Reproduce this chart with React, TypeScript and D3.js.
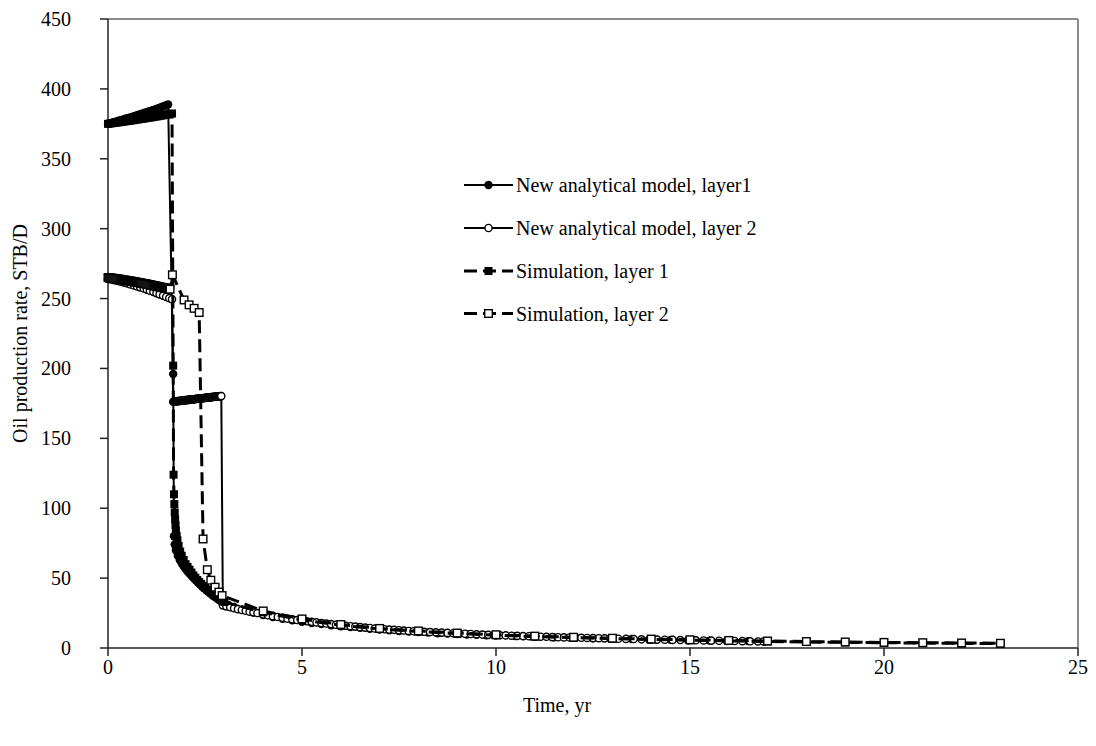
import React from 'react';
import * as d3 from 'd3';

// Oil production rate per layer: analytical model vs. numerical simulation.
// Each point is [time in years, rate in STB/D].

const xTickValues = [0, 5, 10, 15, 20, 25];
const yTickValues = [0, 50, 100, 150, 200, 250, 300, 350, 400, 450];

const xTitle = 'Time, yr';
const yTitle = 'Oil production rate, STB/D';

const analyticLayer1: [number, number][] = [
  [0, 375.0], [0.05, 375.4], [0.1, 375.8], [0.15, 376.2], [0.2, 376.6], [0.25, 377.0], [0.3, 377.4],
  [0.35, 377.8], [0.4, 378.2], [0.45, 378.6], [0.5, 379.0], [0.55, 379.4], [0.6, 379.8], [0.65, 380.2],
  [0.7, 380.7], [0.75, 381.1], [0.8, 381.5], [0.85, 382.0], [0.9, 382.4], [0.95, 382.9], [1.0, 383.3],
  [1.05, 383.8], [1.1, 384.2], [1.15, 384.7], [1.2, 385.2], [1.25, 385.7], [1.3, 386.2], [1.35, 386.7],
  [1.4, 387.2], [1.45, 387.7], [1.5, 388.3], [1.55, 388.8],
  [1.68, 196], [1.7, 80], [1.72, 74], [1.75, 70], [1.8, 66], [1.85, 63], [1.9, 60.5], [1.95, 58.5],
  [2.0, 56.5], [2.05, 54.8], [2.1, 53.2], [2.15, 51.7], [2.2, 50.2], [2.25, 48.8], [2.3, 47.4],
  [2.35, 46.1], [2.4, 44.8], [2.45, 43.5], [2.5, 42.3], [2.55, 41.1], [2.6, 40.0], [2.65, 38.9],
  [2.7, 37.8], [2.75, 36.8], [2.8, 35.8], [2.85, 34.8], [2.9, 33.9], [2.95, 33.0],
  [3.1, 30.8], [3.25, 29.3], [3.5, 27.3], [3.75, 25.3], [4.0, 23.5], [4.25, 22.1], [4.5, 20.9],
  [4.75, 19.8], [5.0, 18.8], [5.25, 17.9], [5.5, 17.1], [5.75, 16.3], [6.0, 15.6], [6.25, 15.0],
  [6.5, 14.4], [6.75, 13.8], [7.0, 13.2], [7.25, 12.7], [7.5, 12.2], [7.75, 11.8], [8.0, 11.4],
  [8.25, 11.0], [8.5, 10.6], [8.75, 10.3], [9.0, 10.0], [9.25, 9.7], [9.5, 9.4], [9.75, 9.1],
  [10.0, 8.9], [10.5, 8.5], [11.0, 8.0], [11.5, 7.6], [12.0, 7.3], [12.5, 7.0], [13.0, 6.7],
  [13.5, 6.4], [14.0, 6.1], [14.5, 5.8], [15.0, 5.6], [15.5, 5.3], [16.0, 5.1], [16.5, 4.9], [16.9, 4.7],
];

const analyticLayer2: [number, number][] = [
  [0, 264.0], [0.08, 263.6], [0.17, 263.1], [0.25, 262.6], [0.33, 262.0], [0.42, 261.4], [0.5, 260.8],
  [0.58, 260.1], [0.67, 259.4], [0.75, 258.7], [0.83, 258.0], [0.92, 257.2], [1.0, 256.4], [1.08, 255.6],
  [1.17, 254.8], [1.25, 253.9], [1.33, 253.0], [1.42, 252.1], [1.5, 251.2], [1.58, 250.3], [1.65, 249.5],
  [1.68, 176.2], [1.7, 176.3], [1.72, 176.3], [1.74, 176.4], [1.76, 176.5], [1.78, 176.5], [1.8, 176.6],
  [1.82, 176.7], [1.84, 176.7], [1.86, 176.8], [1.88, 176.9], [1.9, 176.9], [1.92, 177.0], [1.94, 177.1],
  [1.96, 177.1], [1.98, 177.2], [2.0, 177.3], [2.02, 177.3], [2.04, 177.4], [2.06, 177.5], [2.08, 177.5],
  [2.1, 177.6], [2.12, 177.7], [2.14, 177.7], [2.16, 177.8], [2.18, 177.9], [2.2, 177.9], [2.22, 178.0],
  [2.24, 178.1], [2.26, 178.1], [2.28, 178.2], [2.3, 178.3], [2.32, 178.3], [2.34, 178.4], [2.36, 178.5],
  [2.38, 178.5], [2.4, 178.6], [2.42, 178.7], [2.44, 178.7], [2.46, 178.8], [2.48, 178.9], [2.5, 178.9],
  [2.52, 179.0], [2.54, 179.1], [2.56, 179.1], [2.58, 179.2], [2.6, 179.3], [2.62, 179.3], [2.64, 179.4],
  [2.66, 179.5], [2.68, 179.5], [2.7, 179.6], [2.72, 179.7], [2.74, 179.7], [2.76, 179.8], [2.78, 179.9],
  [2.8, 179.9], [2.82, 180.0], [2.84, 180.0], [2.86, 180.1], [2.88, 180.1], [2.9, 180.2], [2.92, 180.2],
  [2.96, 30.5], [3.05, 29.8], [3.15, 29.1], [3.25, 28.4], [3.35, 27.8], [3.45, 27.2], [3.55, 26.6],
  [3.65, 26.0], [3.75, 25.5], [3.85, 25.0], [4.0, 24.0], [4.125, 23.4], [4.25, 22.8], [4.375, 22.2],
  [4.5, 21.6], [4.625, 21.0], [4.75, 20.5], [4.875, 20.0], [5.0, 19.5], [5.125, 19.1], [5.25, 18.7],
  [5.375, 18.3], [5.5, 17.9], [5.625, 17.5], [5.75, 17.1], [5.875, 16.6], [6.0, 16.2], [6.125, 15.9],
  [6.25, 15.6], [6.375, 15.3], [6.5, 14.9], [6.625, 14.6], [6.75, 14.3], [6.875, 13.9], [7.0, 13.6],
  [7.125, 13.4], [7.25, 13.2], [7.375, 13.0], [7.5, 12.7], [7.625, 12.5], [7.75, 12.2], [7.875, 12.0],
  [8.0, 11.8], [8.15, 11.6], [8.3, 11.4], [8.45, 11.2], [8.6, 11.0], [8.75, 10.8], [8.9, 10.6],
  [9.05, 10.4], [9.2, 10.2], [9.35, 10.0], [9.5, 9.8], [9.65, 9.6], [9.8, 9.4], [9.95, 9.3],
  [10.1, 9.1], [10.25, 9.0], [10.4, 8.8], [10.55, 8.7], [10.7, 8.5], [10.85, 8.4], [11.0, 8.2],
  [11.15, 8.1], [11.3, 8.0], [11.45, 7.8], [11.6, 7.7], [11.75, 7.6], [11.9, 7.5], [12.05, 7.4],
  [12.2, 7.3], [12.35, 7.2], [12.5, 7.1], [12.65, 7.0], [12.8, 6.9], [12.95, 6.8], [13.15, 6.6],
  [13.35, 6.5], [13.55, 6.4], [13.75, 6.2], [13.95, 6.1], [14.15, 6.0], [14.35, 5.9], [14.55, 5.8],
  [14.75, 5.7], [14.95, 5.6], [15.15, 5.5], [15.35, 5.4], [15.55, 5.3], [15.75, 5.2], [15.95, 5.1],
  [16.15, 5.0], [16.35, 4.9], [16.55, 4.8], [16.75, 4.7], [16.9, 4.7],
];

const simulationLayer1: [number, number][] = [
  [0, 375.0], [0.05, 375.2], [0.1, 375.4], [0.15, 375.6], [0.2, 375.8], [0.25, 376.0], [0.3, 376.2],
  [0.35, 376.4], [0.4, 376.6], [0.45, 376.8], [0.5, 377.0], [0.55, 377.2], [0.6, 377.4], [0.65, 377.6],
  [0.7, 377.9], [0.75, 378.1], [0.8, 378.3], [0.85, 378.5], [0.9, 378.7], [0.95, 378.9], [1.0, 379.2],
  [1.05, 379.4], [1.1, 379.6], [1.15, 379.8], [1.2, 380.1], [1.25, 380.3], [1.3, 380.5], [1.35, 380.8],
  [1.4, 381.0], [1.45, 381.3], [1.5, 381.5], [1.55, 381.8], [1.6, 382.1], [1.65, 382.4],
  [1.68, 202], [1.69, 124], [1.7, 110], [1.71, 103], [1.72, 97], [1.73, 92], [1.74, 88], [1.75, 84],
  [1.77, 80], [1.79, 77], [1.82, 73], [1.86, 69], [1.9, 66], [1.95, 63], [2.0, 60], [2.05, 58],
  [2.1, 56], [2.15, 54], [2.2, 52], [2.25, 50.3], [2.3, 48.7], [2.35, 47.2], [2.4, 45.8], [2.45, 44.4],
  [2.5, 43.1], [2.55, 41.9], [2.6, 40.7], [2.65, 39.6], [2.7, 38.5], [2.75, 37.5], [2.8, 36.5],
  [2.85, 35.5], [2.9, 34.6], [2.95, 33.7], [3.0, 32.9],
  [4, 25.5], [5, 20.0], [6, 16.3], [7, 13.6], [8, 11.8], [9, 10.4], [10, 9.2], [11, 8.2], [12, 7.4],
  [13, 6.7], [14, 6.1], [15, 5.6], [16, 5.1], [17, 4.7], [18, 4.3], [19, 4.0], [20, 3.8], [21, 3.5],
  [22, 3.3], [23, 3.1],
];

const simulationLayer2: [number, number][] = [
  [0, 265.0], [0.025, 264.9], [0.05, 264.8], [0.075, 264.7], [0.1, 264.6], [0.125, 264.5], [0.15, 264.4],
  [0.175, 264.3], [0.2, 264.2], [0.225, 264.1], [0.25, 264.0], [0.275, 263.9], [0.3, 263.8], [0.325, 263.7],
  [0.35, 263.6], [0.375, 263.5], [0.4, 263.3], [0.425, 263.2], [0.45, 263.1], [0.475, 263.0], [0.5, 262.9],
  [0.525, 262.8], [0.55, 262.6], [0.575, 262.5], [0.6, 262.4], [0.625, 262.3], [0.65, 262.1], [0.675, 262.0],
  [0.7, 261.9], [0.725, 261.8], [0.75, 261.6], [0.775, 261.5], [0.8, 261.4], [0.825, 261.3], [0.85, 261.1],
  [0.875, 261.0], [0.9, 260.8], [0.925, 260.7], [0.95, 260.6], [0.975, 260.5], [1.0, 260.3], [1.025, 260.2],
  [1.05, 260.0], [1.075, 259.9], [1.1, 259.7], [1.125, 259.6], [1.15, 259.4], [1.175, 259.3], [1.2, 259.1],
  [1.225, 259.0], [1.25, 258.8], [1.275, 258.7], [1.3, 258.5], [1.325, 258.4], [1.35, 258.2], [1.375, 258.1],
  [1.4, 257.9], [1.425, 257.8], [1.45, 257.6], [1.475, 257.5], [1.5, 257.3], [1.525, 257.2], [1.55, 257.0],
  [1.575, 256.9], [1.6, 256.7],
  [1.66, 267], [1.96, 249], [2.09, 245.5], [2.22, 243], [2.35, 240],
  [2.45, 78], [2.56, 56], [2.65, 48.5], [2.76, 43.5], [2.86, 40], [2.94, 37.5],
  [4, 26.5], [5, 20.8], [6, 16.8], [7, 14.0], [8, 12.2], [9, 10.7], [10, 9.5], [11, 8.5], [12, 7.7],
  [13, 7.0], [14, 6.4], [15, 5.9], [16, 5.4], [17, 5.0], [18, 4.6], [19, 4.3], [20, 4.0], [21, 3.8],
  [22, 3.6], [23, 3.4],
];

type Marker = 'filledCircle' | 'openCircle' | 'filledSquare' | 'openSquare';

const seriesLabels = [
  'New analytical model, layer1',
  'New analytical model, layer 2',
  'Simulation, layer 1',
  'Simulation, layer 2',
];
const seriesData = [analyticLayer1, analyticLayer2, simulationLayer1, simulationLayer2];
const seriesMarkers: Marker[] = ['filledCircle', 'openCircle', 'filledSquare', 'openSquare'];
const seriesDashed = [false, false, true, true];

const FONT = "'Liberation Serif', 'Times New Roman', serif";

const x = d3.scaleLinear().domain([0, 25]).range([108, 1078]);
const y = d3.scaleLinear().domain([0, 450]).range([648, 19]);

function MarkerShape({ kind, cx, cy }: { kind: Marker; cx: number; cy: number }) {
  if (kind === 'filledCircle') return <circle cx={cx} cy={cy} r={4.2} fill="#000" />;
  if (kind === 'openCircle')
    return <circle cx={cx} cy={cy} r={3.6} fill="#fff" stroke="#000" strokeWidth={1.4} />;
  if (kind === 'filledSquare') return <rect x={cx - 4} y={cy - 4} width={8} height={8} fill="#000" />;
  return (
    <rect x={cx - 3.8} y={cy - 3.8} width={7.6} height={7.6} fill="#fff" stroke="#000" strokeWidth={1.4} />
  );
}

export default function App() {
  const line = d3
    .line<[number, number]>()
    .x((d) => x(d[0]))
    .y((d) => y(d[1]));

  const [x0, x1] = x.range();
  const [yb, yt] = y.range();

  const legendX0 = 464;
  const legendX1 = 513;
  const legendRows = [185, 228, 271, 313.5];

  return (
    <svg
      width={1096}
      height={746}
      style={{ position: 'absolute', left: 0, top: 0, background: '#fff' }}
      fontFamily={FONT}
    >
      <rect x={0} y={0} width={1096} height={746} fill="#fff" />

      {/* plot area frame */}
      <line x1={x0} y1={yt} x2={x1} y2={yt} stroke="#8c8c8c" strokeWidth={2} />
      <line x1={x1} y1={yt} x2={x1} y2={yb} stroke="#8c8c8c" strokeWidth={2} />

      {/* axes */}
      <line x1={x0} y1={yt} x2={x0} y2={yb} stroke="#222" strokeWidth={1.5} />
      <line x1={x0} y1={yb} x2={x1} y2={yb} stroke="#222" strokeWidth={1.5} />

      {yTickValues.map((v) => (
        <g key={`y${v}`}>
          <line x1={x0 - 8} x2={x0} y1={y(v)} y2={y(v)} stroke="#222" strokeWidth={1.5} />
          <text x={71} y={y(v)} dy="0.35em" textAnchor="end" fontSize={20} fill="#000">
            {v}
          </text>
        </g>
      ))}
      {xTickValues.map((v) => (
        <g key={`x${v}`}>
          <line x1={x(v)} x2={x(v)} y1={yb} y2={yb + 8} stroke="#222" strokeWidth={1.5} />
          <text x={x(v)} y={674} textAnchor="middle" fontSize={20} fill="#000">
            {v}
          </text>
        </g>
      ))}

      <text x={557} y={712} textAnchor="middle" fontSize={20} fill="#000">
        {xTitle}
      </text>
      <text
        transform={`translate(27, ${(yt + yb) / 2}) rotate(-90)`}
        textAnchor="middle"
        fontSize={20}
        fill="#000"
      >
        {yTitle}
      </text>

      {/* series: line first, then its markers */}
      {seriesData.map((data, i) => (
        <g key={`s${i}`}>
          <path
            d={line(data) || ''}
            fill="none"
            stroke="#000"
            strokeWidth={seriesDashed[i] ? 3 : 2}
            strokeDasharray={seriesDashed[i] ? '13,6' : undefined}
            strokeLinejoin="round"
          />
          {data.map((d, j) => (
            <MarkerShape key={j} kind={seriesMarkers[i]} cx={x(d[0])} cy={y(d[1])} />
          ))}
        </g>
      ))}

      {/* legend */}
      {seriesLabels.map((label, i) => (
        <g key={`l${i}`}>
          <line
            x1={legendX0}
            x2={legendX1}
            y1={legendRows[i]}
            y2={legendRows[i]}
            stroke="#000"
            strokeWidth={seriesDashed[i] ? 3 : 2}
            strokeDasharray={seriesDashed[i] ? '13,6' : undefined}
          />
          <MarkerShape kind={seriesMarkers[i]} cx={(legendX0 + legendX1) / 2} cy={legendRows[i]} />
          <text x={516} y={legendRows[i]} dy="0.35em" fontSize={20} fill="#000">
            {label}
          </text>
        </g>
      ))}
    </svg>
  );
}
